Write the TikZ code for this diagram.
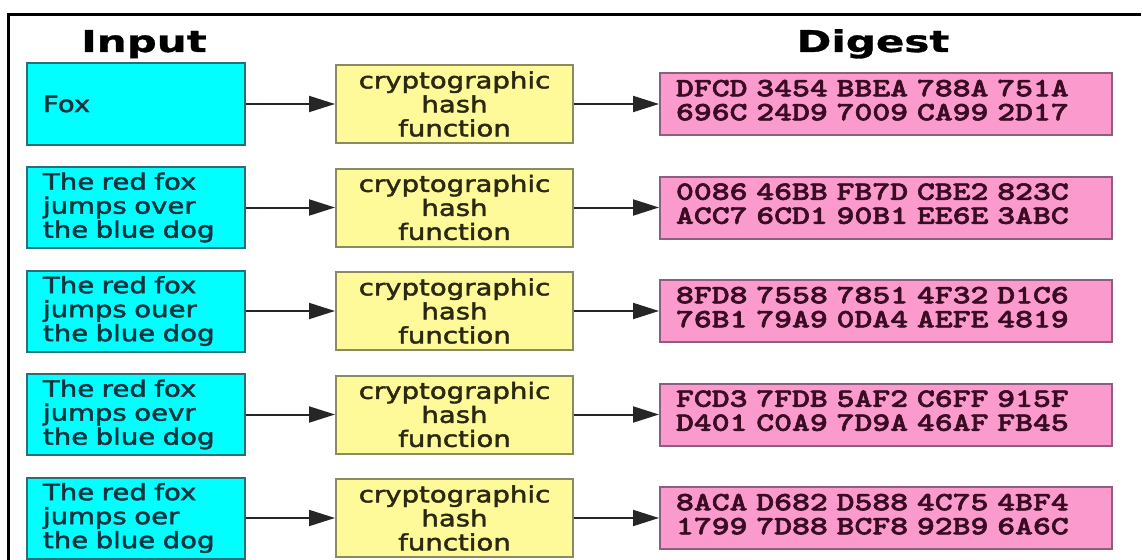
\documentclass[tikz,border=0pt]{standalone}
\usepackage{fontspec}
\usetikzlibrary{arrows.meta}

% wide sans for labels, heavy typewriter for the hex digests
\newfontfamily\boxfont[FakeStretch=1.23,FakeBold=2]{DejaVu Sans}
\newfontfamily\headfont[FakeStretch=1.4,FakeBold=1]{DejaVu Sans Bold}
\newfontfamily\hexfont[FakeStretch=1.29,FakeBold=2.2]{lmmonolt10-bold.otf}

\definecolor{inFill}{HTML}{00FFFF}
\definecolor{inLine}{HTML}{2A6F78}
\definecolor{inText}{HTML}{0E3440}
\definecolor{hashFill}{HTML}{FFFA99}
\definecolor{hashLine}{HTML}{8C8A60}
\definecolor{hashText}{HTML}{2A2810}
\definecolor{digFill}{HTML}{FA9ACD}
\definecolor{digLine}{HTML}{8E5E7E}
\definecolor{digText}{HTML}{3A0C24}
\definecolor{arrowCol}{HTML}{262626}

\tikzset{
  title/.style={anchor=base, inner sep=0pt, font=\headfont\fontsize{22.5pt}{27pt}\selectfont},
  inbox/.style={draw=inLine, fill=inFill, line width=1.5pt,
    minimum width=163.5pt, minimum height=60.75pt,
    text width=139.5pt, inner xsep=12pt, inner ysep=0pt, align=left,
    font=\boxfont\fontsize{16.8pt}{18pt}\selectfont, text=inText},
  hashbox/.style={draw=hashLine, fill=hashFill, line width=1.5pt,
    minimum width=177.75pt, minimum height=58.5pt,
    text width=160pt, inner xsep=8.875pt, inner ysep=0pt, align=center,
    font=\boxfont\fontsize{16.8pt}{18pt}\selectfont, text=hashText},
  digbox/.style={draw=digLine, fill=digFill, line width=1.5pt,
    minimum width=339pt, minimum height=46.5pt,
    text width=315pt, inner xsep=12pt, inner ysep=0pt, align=left,
    text depth=24pt,
    font=\hexfont\fontsize{19.8pt}{18pt}\selectfont, text=digText},
  arr/.style={draw=arrowCol, line width=1.5pt, -{Triangle[length=19.5pt,width=12pt]}},
  frame/.style={line width=2.25pt, black}
}

\begin{document}
\begin{tikzpicture}[x=0.75pt, y=-0.75pt]
\useasboundingbox (0,0) rectangle (1143,560);

% open frame: top and left edges
\draw[frame] (8,562) -- (8,15) -- (1141,15);

% column headings
\node[title] (tin) at (144,52) {Input};
\node[title] (tdig) at (873,52) {Digest};

% row 1
\node[inbox] (in1) at (136,104) {Fox};
\node[hashbox] (h1) at (454.5,104) {cryptographic\\hash\\function};
\node[digbox] (d1) at (886,104) {DFCD 3454 BBEA 788A 751A\\696C 24D9 7009 CA99 2D17};

% row 2
\node[inbox] (in2) at (136,207.5) {The red fox\\jumps over\\the blue dog};
\node[hashbox] (h2) at (454.5,207.5) {cryptographic\\hash\\function};
\node[digbox] (d2) at (886,207.5) {0086 46BB FB7D CBE2 823C\\ACC7 6CD1 90B1 EE6E 3ABC};

% row 3
\node[inbox] (in3) at (136,311) {The red fox\\jumps ouer\\the blue dog};
\node[hashbox] (h3) at (454.5,311) {cryptographic\\hash\\function};
\node[digbox] (d3) at (886,311) {8FD8 7558 7851 4F32 D1C6\\76B1 79A9 0DA4 AEFE 4819};

% row 4
\node[inbox] (in4) at (136,414.5) {The red fox\\jumps oevr\\the blue dog};
\node[hashbox] (h4) at (454.5,414.5) {cryptographic\\hash\\function};
\node[digbox] (d4) at (886,414.5) {FCD3 7FDB 5AF2 C6FF 915F\\D401 C0A9 7D9A 46AF FB45};

% row 5
\node[inbox] (in5) at (136,518) {The red fox\\jumps oer\\the blue dog};
\node[hashbox] (h5) at (454.5,518) {cryptographic\\hash\\function};
\node[digbox] (d5) at (886,518) {8ACA D682 D588 4C75 4BF4\\1799 7D88 BCF8 92B9 6A6C};

% connectors
\foreach \r in {1,...,5} {
  \draw[arr] (in\r.east) -- (h\r.west);
  \draw[arr] (h\r.east) -- (d\r.west);
}
\end{tikzpicture}
\end{document}
